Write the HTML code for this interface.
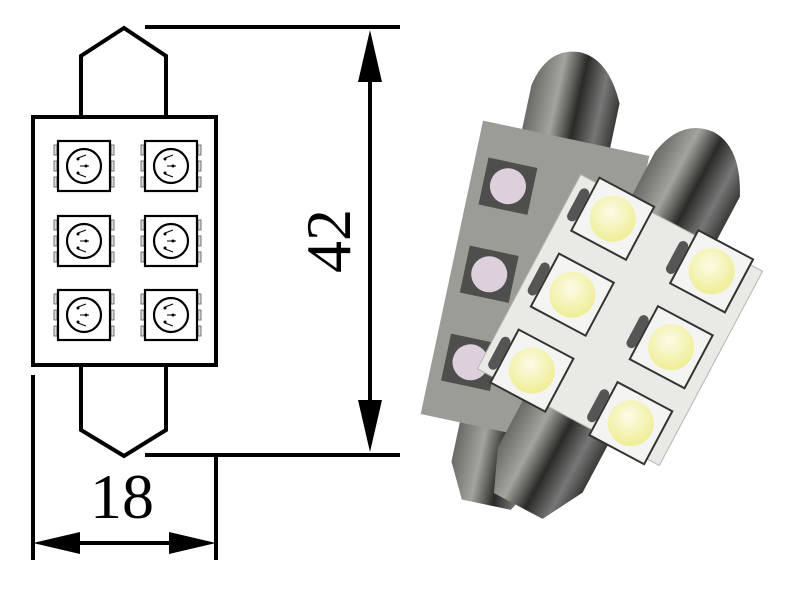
<!DOCTYPE html>
<html><head><style>body{margin:0;background:#fff}svg{display:block}</style></head>
<body>
<svg width="800" height="600" viewBox="0 0 800 600" xmlns="http://www.w3.org/2000/svg">
<defs>
<g id="led">
 <rect x="-4" y="-21" width="3" height="10" fill="#ddd" stroke="#555" stroke-width="0.8"/>
 <rect x="-4" y="-5" width="3" height="10" fill="#ddd" stroke="#555" stroke-width="0.8"/>
 <rect x="-4" y="11" width="3" height="10" fill="#ddd" stroke="#555" stroke-width="0.8"/>
 <rect x="53" y="-21" width="3" height="10" fill="#ddd" stroke="#555" stroke-width="0.8"/>
 <rect x="53" y="-5" width="3" height="10" fill="#ddd" stroke="#555" stroke-width="0.8"/>
 <rect x="53" y="11" width="3" height="10" fill="#ddd" stroke="#555" stroke-width="0.8"/>
 <rect x="0" y="-25" width="52" height="50" fill="#fff" stroke="#000" stroke-width="2.2"/>
 <circle cx="26" cy="0" r="17" fill="none" stroke="#000" stroke-width="2.2"/>
 <path d="M20 -8 l8 -3 M22 0 h9 M20 8 l8 3" stroke="#000" stroke-width="1"/>
 <circle cx="20" cy="-7" r="1.5"/><circle cx="28" cy="0" r="1.5"/><circle cx="20" cy="7" r="1.5"/>
</g>
<radialGradient id="yel" cx="0.4" cy="0.4" r="0.6"><stop offset="0" stop-color="#fbfbe8"/><stop offset="1" stop-color="#f0ee98"/></radialGradient>
<linearGradient id="metal" x1="0" x2="1"><stop offset="0" stop-color="#6a6a66"/><stop offset="0.3" stop-color="#a4a49e"/><stop offset="0.55" stop-color="#2a2a28"/><stop offset="0.8" stop-color="#777"/><stop offset="1" stop-color="#3a3a38"/></linearGradient>
</defs>
<g fill="none" stroke="#000" stroke-width="4">
 <polyline points="81,117 81,56 124,28 166,56 166,117"/>
 <rect x="33" y="117" width="183" height="248"/>
 <polyline points="81,365 81,430 124,456 166,430 166,365"/>
 <line x1="145" y1="27" x2="400" y2="27"/>
 <line x1="145" y1="455" x2="400" y2="455"/>
 <line x1="370" y1="60" x2="370" y2="420"/>
 <line x1="33" y1="375" x2="33" y2="560"/>
 <line x1="216" y1="455" x2="216" y2="560"/>
 <line x1="60" y1="543" x2="190" y2="543"/>
</g>
<polygon points="370,30 358,82 382,82"/>
<polygon points="370,452 358,400 382,400"/>
<polygon points="33,543 80,532 80,554"/>
<polygon points="216,543 169,532 169,554"/>
<use href="#led" x="58" y="166"/><use href="#led" x="145" y="166"/>
<use href="#led" x="58" y="241"/><use href="#led" x="145" y="241"/>
<use href="#led" x="58" y="315"/><use href="#led" x="145" y="315"/>
<text x="122" y="518" font-family="Liberation Serif, serif" font-size="64" text-anchor="middle">18</text>
<text transform="translate(350,241) rotate(-90)" font-family="Liberation Serif, serif" font-size="64" text-anchor="middle">42</text>

<!-- photo: back bulb -->
<g transform="translate(535,285) rotate(12)">
 <path d="M-45 -140 v-55 q8 -40 40 -42 q30 0 50 42 v55 z" fill="url(#metal)"/>
 <path d="M-45 140 v50 l18 35 h50 l22 -35 v-50 z" fill="url(#metal)"/>
 <rect x="-85" y="-150" width="170" height="300" fill="#9c9c97"/>
 <g fill="#4e4e4c">
  <rect x="-72" y="-115" width="50" height="48"/><rect x="-72" y="-25" width="50" height="48"/><rect x="-72" y="65" width="50" height="48"/>
 </g>
 <g fill="#ddd0dc">
  <circle cx="-47" cy="-91" r="18"/><circle cx="-47" cy="-1" r="18"/><circle cx="-47" cy="89" r="18"/>
 </g>
</g>
<!-- front bulb -->
<g transform="translate(620,320) rotate(28)">
 <path d="M-48 -100 v-65 q8 -42 42 -45 q32 0 54 45 v65 z" fill="url(#metal)"/>
 <path d="M-48 100 v70 l18 42 h55 l23 -42 v-70 z" fill="url(#metal)"/>
 <rect x="-103" y="-110" width="206" height="220" fill="#e9e9e5" stroke="#b5b5b0"/>
 <g fill="#555">
  <rect x="-96" y="-100" width="10" height="36" rx="5"/><rect x="16" y="-100" width="10" height="36" rx="5"/>
  <rect x="-96" y="-16" width="10" height="36" rx="5"/><rect x="16" y="-16" width="10" height="36" rx="5"/>
  <rect x="-96" y="68" width="10" height="36" rx="5"/><rect x="16" y="68" width="10" height="36" rx="5"/>
 </g>
 <g fill="#f4f4f2" stroke="#333" stroke-width="2">
  <rect x="-85" y="-116" width="62" height="60"/><rect x="27" y="-116" width="62" height="60"/>
  <rect x="-85" y="-30" width="62" height="60"/><rect x="27" y="-30" width="62" height="60"/>
  <rect x="-85" y="56" width="62" height="60"/><rect x="27" y="56" width="62" height="60"/>
 </g>
 <g fill="url(#yel)">
  <circle cx="-54" cy="-86" r="23"/><circle cx="58" cy="-86" r="23"/>
  <circle cx="-54" cy="0" r="23"/><circle cx="58" cy="0" r="23"/>
  <circle cx="-54" cy="86" r="23"/><circle cx="58" cy="86" r="23"/>
 </g>
</g>
</svg>
</body></html>
